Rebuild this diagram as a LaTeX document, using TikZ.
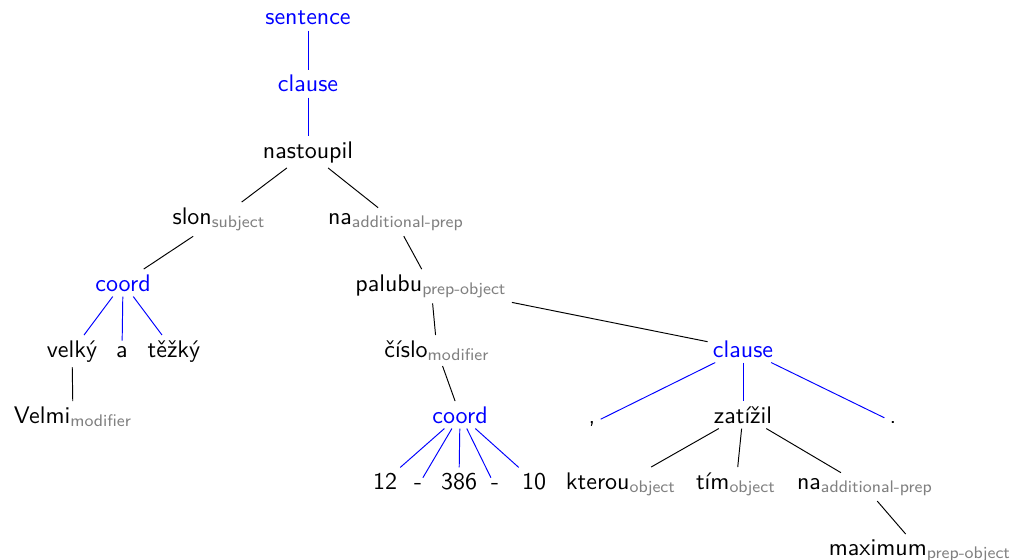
\documentclass[tikz,border=0pt]{standalone}
\usepackage{tikz}
\usepackage{amsmath}
\tikzstyle{word} = [inner sep=2pt,
anchor=base,
font=\sffamily,
text=black]
\tikzstyle{phrase} = [word,
text=blue]
\tikzstyle{dep} = [black]
\tikzstyle{grp} = [blue]
\newcommand{\lab}[2]{#1$_{\text{\color{gray}#2}}$}

\begin{document}
\begin{tikzpicture}[x=0.4167pt, y=-0.4167pt]
        \useasboundingbox (0,0) rectangle (1013,560);
        \node (sent) [phrase] at (308,25) {sentence};
        \node (clauseA) [phrase] at (308,92) {clause};
        \node (nastoupil) [word] at (308,158) {nastoupil};
        \node (slon) [word] at (219,224) {\lab{slon}{subject}};
        \node (naA) [word] at (396,224) {\lab{na}{additional-prep}};
        \node (coordA) [phrase] at (123,291) {coord};
        \node (palubu) [word] at (431,291) {\lab{palubu}{prep-object}};
        \node (velky) [word] at (72,357) {velký};
        \node (conj) [word] at (122,357) {a};
        \node (tezky) [word] at (174,357) {těžký};
        \node (cislo) [word] at (437,357) {\lab{číslo}{modifier}};
        \node (clauseB) [phrase] at (743,357) {clause};
        \node (velmi) [word] at (73,423) {\lab{Velmi}{modifier}};
        \node (coordB) [phrase] at (460,423) {coord};
        \node (comma) [word] at (592,423) {,};
        \node (zatizil) [word] at (743,423) {zatížil};
        \node (period) [word] at (893,423) {.};
        \node (num12) [word] at (385,489) {12};
        \node (dashA) [word] at (418,489) {-};
        \node (num386) [word] at (459,489) {386};
        \node (dashB) [word] at (495,489) {-};
        \node (num10) [word] at (534,489) {10};
        \node (kterou) [word] at (621,489) {\lab{kterou}{object}};
        \node (tim) [word] at (736,489) {\lab{tím}{object}};
        \node (naB) [word] at (865,489) {\lab{na}{additional-prep}};
        \node (maximum) [word] at (920,555) {\lab{maximum}{prep-object}};

        \draw [grp] (sent) -- (clauseA);
        \draw [grp] (clauseA) -- (nastoupil);
        \draw [dep] (nastoupil) -- (slon);
        \draw [dep] (nastoupil) -- (naA);
        \draw [dep] (slon) -- (coordA);
        \draw [dep] (naA) -- (palubu);
        \draw [grp] (coordA) -- (velky);
        \draw [grp] (coordA) -- (conj);
        \draw [grp] (coordA) -- (tezky);
        \draw [dep] (velky) -- (velmi);
        \draw [dep] (palubu) -- (cislo);
        \draw [dep] (palubu) -- (clauseB);
        \draw [dep] (cislo) -- (coordB);
        \draw [grp] (coordB) -- (num12);
        \draw [grp] (coordB) -- (dashA);
        \draw [grp] (coordB) -- (num386);
        \draw [grp] (coordB) -- (dashB);
        \draw [grp] (coordB) -- (num10);
        \draw [grp] (clauseB) -- (comma);
        \draw [grp] (clauseB) -- (zatizil);
        \draw [grp] (clauseB) -- (period);
        \draw [dep] (zatizil) -- (kterou);
        \draw [dep] (zatizil) -- (tim);
        \draw [dep] (zatizil) -- (naB);
        \draw [dep] (naB) -- (maximum);
    \end{tikzpicture}
\end{document}
